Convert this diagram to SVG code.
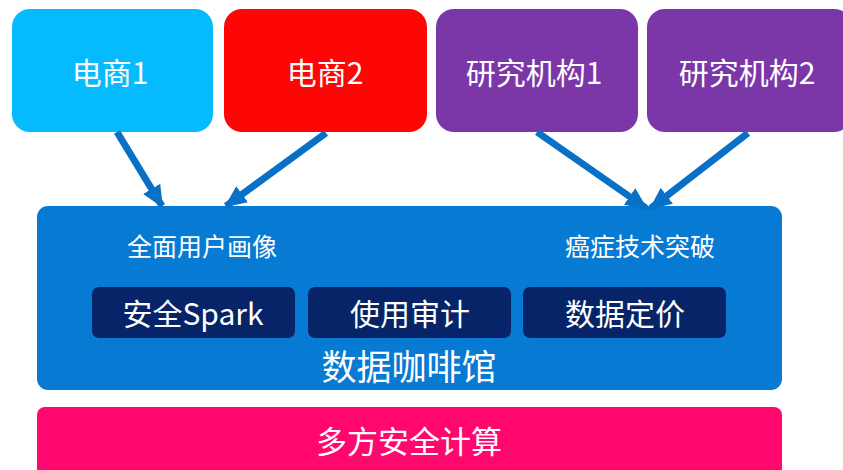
<svg xmlns="http://www.w3.org/2000/svg" width="843" height="470" viewBox="0 0 843 470">
<style>
text{font-family:"Noto Sans CJK SC","Noto Sans",sans-serif;fill:#fff;text-anchor:middle}
.top{font-size:30px}
.sub{font-size:25px}
.inner{font-size:30px}
.conn{stroke:#0870c6;stroke-width:7;fill:none;marker-end:url(#ah)}
</style>
<defs>
<marker id="ah" markerUnits="userSpaceOnUse" markerWidth="24" markerHeight="24" viewBox="0 0 24 24" refX="20" refY="12" orient="auto">
<path d="M0,2 L22,12 L0,22 Z" fill="#0870c6"/>
</marker>
</defs>
<rect width="843" height="470" fill="#fff"/>
<g id="cafe">
<rect x="37" y="206" width="745" height="184" rx="11" fill="#077ad4"/>
<text class="sub" x="202" y="256">全面用户画像</text>
<text class="sub" x="640" y="256">癌症技术突破</text>
<text x="409" y="380" style="font-size:35px">数据咖啡馆</text>
</g>
<g id="spark">
<rect x="92" y="287" width="203" height="51" rx="7" fill="#062467"/>
<text class="inner" x="193" y="325">安全Spark</text>
</g>
<g id="audit">
<rect x="308" y="287" width="203" height="51" rx="7" fill="#062467"/>
<text class="inner" x="410" y="325">使用审计</text>
</g>
<g id="pricing">
<rect x="523" y="287" width="203" height="51" rx="7" fill="#062467"/>
<text class="inner" x="625" y="325">数据定价</text>
</g>
<g id="mpc">
<rect x="37" y="407" width="745" height="80" rx="8" fill="#ff076c"/>
<text x="409" y="453" style="font-size:31px">多方安全计算</text>
</g>
<g id="ec1">
<rect x="12" y="9" width="201" height="123" rx="18" fill="#06bbfd"/>
<text class="top" x="110" y="84">电商1</text>
</g>
<g id="ec2">
<rect x="224" y="9" width="203" height="123" rx="18" fill="#ff0606"/>
<text class="top" x="325" y="84">电商2</text>
</g>
<g id="ri1">
<rect x="436" y="9" width="202" height="123" rx="18" fill="#7b37a8"/>
<text class="top" x="534" y="84">研究机构1</text>
</g>
<g id="ri2">
<rect x="647" y="9" width="205" height="123" rx="18" fill="#7b37a8"/>
<text class="top" x="747" y="84">研究机构2</text>
</g>
<g id="connectors">
<line class="conn" x1="117" y1="132" x2="162" y2="206"/>
<line class="conn" x1="326" y1="133" x2="226" y2="206"/>
<line class="conn" x1="537" y1="132" x2="646" y2="208"/>
<line class="conn" x1="748" y1="133" x2="651" y2="208"/>
</g>
</svg>
